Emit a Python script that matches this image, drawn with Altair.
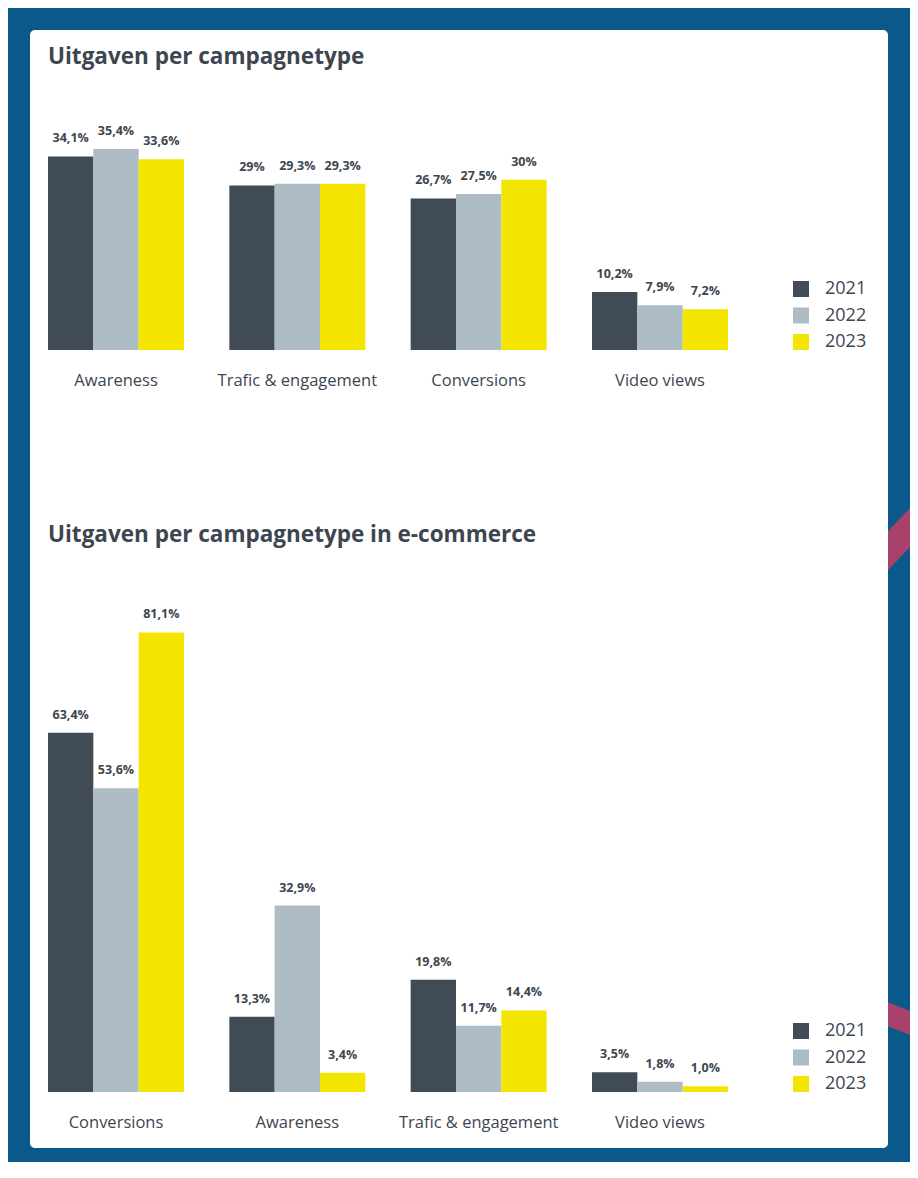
import altair as alt
import pandas as pd

# ---------------- data ----------------
years = ["2021", "2022", "2023"]
year_colors = ["#414b55", "#aebcc6", "#f4e500"]

top_title = "Uitgaven per campagnetype"
top_categories = ["Awareness", "Trafic & engagement", "Conversions", "Video views"]
top_2021 = [34.1, 29.0, 26.7, 10.2]
top_2022 = [35.4, 29.3, 27.5, 7.9]
top_2023 = [33.6, 29.3, 30.0, 7.2]
top_labels_2021 = ["34,1%", "29%", "26,7%", "10,2%"]
top_labels_2022 = ["35,4%", "29,3%", "27,5%", "7,9%"]
top_labels_2023 = ["33,6%", "29,3%", "30%", "7,2%"]

bottom_title = "Uitgaven per campagnetype in e-commerce"
bottom_categories = ["Conversions", "Awareness", "Trafic & engagement", "Video views"]
bottom_2021 = [63.4, 13.3, 19.8, 3.5]
bottom_2022 = [53.6, 32.9, 11.7, 1.8]
bottom_2023 = [81.1, 3.4, 14.4, 1.0]
bottom_labels_2021 = ["63,4%", "13,3%", "19,8%", "3,5%"]
bottom_labels_2022 = ["53,6%", "32,9%", "11,7%", "1,8%"]
bottom_labels_2023 = ["81,1%", "3,4%", "14,4%", "1,0%"]

# decorative background stripes (pixel geometry, not data)
stripe_id = ["a", "a", "b", "b"]
stripe_x = [822, 862, 822, 862]
stripe_y = [427, 385, 872, 888]
stripe_y2 = [466, 424, 896, 912]

# ---------------- style ----------------
FONT = "Open Sans"
TEXT = "#3d4650"
BLUE = "#0b598a"
PINK = "#a8426b"


def build(cats, s1, s2, s3, l1, l2, l3):
    rows = []
    for vals, labs, yr in ((s1, l1, years[0]), (s2, l2, years[1]), (s3, l3, years[2])):
        for c, v, l in zip(cats, vals, labs):
            rows.append({"cat": c, "year": yr, "value": v, "label": l})
    return pd.DataFrame(rows)


def panel(cats, df, title, ymax, height, legend_y, title_y, under=()):
    x = alt.X(
        "cat:N", sort=cats,
        scale=alt.Scale(paddingInner=0.25, paddingOuter=0),
        axis=alt.Axis(title=None, domain=False, ticks=False, tickSize=0,
                      labelPadding=35, labelBaseline="alphabetic", labelAngle=0,
                      labelFontSize=16.5, labelFont=FONT, labelColor=TEXT, zindex=1),
    )
    xo = alt.XOffset("year:N", sort=years)
    y = alt.Y("value:Q", scale=alt.Scale(domain=[0, ymax], nice=False), axis=None)
    color = alt.Color(
        "year:N",
        scale=alt.Scale(domain=years, range=year_colors),
        legend=alt.Legend(title=None, orient="none", legendX=744, legendY=legend_y,
                          symbolType="square", symbolSize=256, symbolStrokeWidth=0,
                          labelFontSize=18, labelFont=FONT, labelColor=TEXT,
                          labelOffset=15, rowPadding=8.5, padding=0),
    )
    base = alt.Chart(df)
    bars = base.mark_bar().encode(x=x, xOffset=xo, y=y, color=color)
    labels = base.mark_text(dy=-14, baseline="alphabetic", fontSize=12.5,
                            fontWeight="bold", font=FONT, color=TEXT).encode(
        x=x, xOffset=xo, y=y, text="label:N")
    ttl = alt.Chart(pd.DataFrame({"t": [title]})).mark_text(
        align="left", baseline="alphabetic", fontSize=22.5, fontWeight="bold",
        font=FONT, color=TEXT).encode(x=alt.value(0), y=alt.value(title_y), text="t:N")
    return alt.layer(*under, bars, labels, ttl).properties(width=680, height=height)


top_df = build(top_categories, top_2021, top_2022, top_2023,
               top_labels_2021, top_labels_2022, top_labels_2023)
bottom_df = build(bottom_categories, bottom_2021, bottom_2022, bottom_2023,
                  bottom_labels_2021, bottom_labels_2022, bottom_labels_2023)

stripes = alt.Chart(pd.DataFrame({"id": stripe_id, "px": stripe_x, "py": stripe_y,
                                  "py2": stripe_y2})).mark_area(
    color=PINK, orient="vertical").encode(
    x=alt.X("px:Q", scale=None, axis=None),
    y=alt.Y("py:Q", scale=None, axis=None),
    y2="py2:Q",
    detail="id:N",
)

card = alt.Chart(pd.DataFrame({"c": [0]})).mark_rect(
    color="white", cornerRadius=5).encode(
    x=alt.value(-18), x2=alt.value(840), y=alt.value(-93), y2=alt.value(1025))

top = panel(top_categories, top_df, top_title, 40, 227, 157, -59, under=(stripes, card))
bottom = panel(bottom_categories, bottom_df, bottom_title, 90, 510, 440, -40)

chart = alt.vconcat(top, bottom, spacing=232, bounds="flush").resolve_legend(
    color="independent"
).properties(
    background=BLUE,
    padding={"left": 22, "top": 22, "right": 0, "bottom": 14},
).configure_view(strokeWidth=0)

chart.save("out.html", embed_options={"renderer": "svg", "actions": False})
